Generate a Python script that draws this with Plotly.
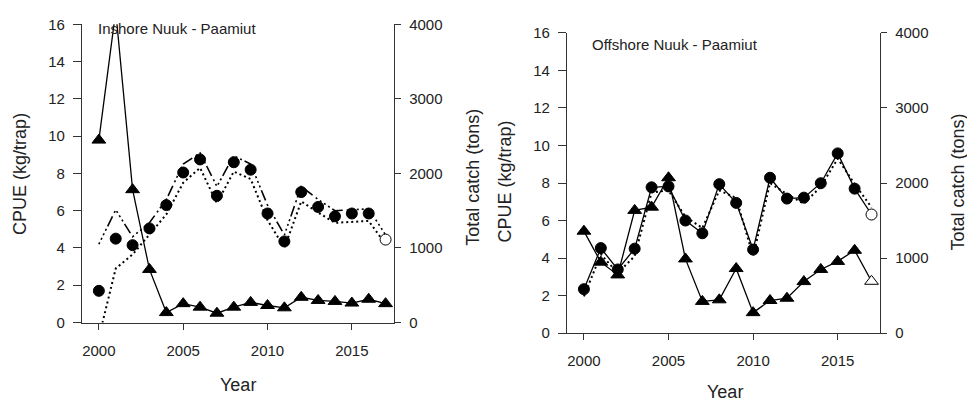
import plotly.graph_objects as go

W, H = 967, 412

years = list(range(2000, 2018))
x_ticks = [2000, 2005, 2010, 2015]
cpue_ticks = [0, 2, 4, 6, 8, 10, 12, 14, 16]
catch_ticks = [0, 1000, 2000, 3000, 4000]

# Inshore Nuuk - Paamiut
inshore_cpue = [1.7, 4.5, 4.15, 5.05, 6.3, 8.05, 8.75, 6.8, 8.6, 8.2, 5.85, 4.35, 7.0, 6.2, 5.7, 5.85, 5.85, 4.45]
inshore_upper = [4.2, 6.05, 4.6, 5.35, 6.6, 8.5, 9.1, 7.3, 8.95, 8.5, 6.3, 4.7, 7.3, 6.6, 6.0, 6.05, 6.1, 4.7]
inshore_lower = [-0.8, 2.9, 3.65, 4.7, 5.8, 7.5, 8.3, 6.4, 8.1, 7.7, 5.5, 4.0, 6.5, 5.9, 5.35, 5.4, 5.45, 4.2]
inshore_catch = [2447, 4180, 1782, 712, 133, 253, 206, 125, 206, 270, 228, 197, 338, 296, 283, 261, 312, 253]

# Offshore Nuuk - Paamiut
offshore_cpue = [2.34, 4.53, 3.39, 4.5, 7.77, 7.82, 6.0, 5.32, 7.94, 6.94, 4.45, 8.28, 7.17, 7.22, 7.99, 9.58, 7.70, 6.32]
offshore_std = [1.95, 4.2, 3.2, 4.1, 7.5, 7.6, 6.2, 5.6, 7.6, 7.2, 4.1, 8.0, 7.4, 6.9, 7.8, 9.3, 7.95, 6.7]
offshore_catch = [1358, 945, 775, 1635, 1678, 2070, 988, 422, 443, 860, 272, 434, 464, 686, 848, 955, 1103, 690]

FONT = "Arial, Liberation Sans, sans-serif"
BLK = "black"


def px(x):
    return x / W


def py(y):
    return 1 - y / H


def fills(n, last_open):
    c = [BLK] * n
    if last_open:
        c[-1] = "white"
    return c


fig = go.Figure()

# ---- left panel (x, y / y2)
fig.add_trace(go.Scatter(x=years, y=inshore_lower, mode="lines", xaxis="x", yaxis="y",
                         line=dict(color=BLK, width=2, dash="2px,3px"), showlegend=False))
fig.add_trace(go.Scatter(x=years, y=inshore_upper, mode="lines", xaxis="x", yaxis="y",
                         line=dict(color=BLK, width=1.6,
                                   dash="2px,3px,2px,3px,2px,3px,2px,3px,11px,4px"),
                         showlegend=False))
fig.add_trace(go.Scatter(x=years, y=inshore_cpue, mode="markers", xaxis="x", yaxis="y",
                         marker=dict(symbol="circle", size=11, color=fills(len(years), True),
                                     line=dict(color=BLK, width=1)), showlegend=False))
fig.add_trace(go.Scatter(x=years, y=inshore_catch, mode="lines+markers", xaxis="x", yaxis="y2",
                         line=dict(color=BLK, width=1.3),
                         marker=dict(symbol="triangle-up", size=12, color=BLK,
                                     line=dict(color=BLK, width=1)), showlegend=False))

# ---- right panel (x2, y3 / y4)
fig.add_trace(go.Scatter(x=years, y=offshore_std, mode="lines", xaxis="x2", yaxis="y3",
                         line=dict(color=BLK, width=2, dash="2px,3px"), showlegend=False))
fig.add_trace(go.Scatter(x=years, y=offshore_cpue, mode="lines+markers", xaxis="x2", yaxis="y3",
                         line=dict(color=BLK, width=1.3),
                         marker=dict(symbol="circle", size=11, color=fills(len(years), True),
                                     line=dict(color=BLK, width=1)), showlegend=False))
fig.add_trace(go.Scatter(x=years, y=offshore_catch, mode="lines+markers", xaxis="x2", yaxis="y4",
                         line=dict(color=BLK, width=1.3),
                         marker=dict(symbol="triangle-up", size=12, color=fills(len(years), True),
                                     line=dict(color=BLK, width=1)), showlegend=False))

tickfont = dict(family=FONT, size=15, color="#222")
xcommon = dict(range=[1999.0, 2017.5], tickvals=x_ticks, showgrid=False, zeroline=False,
               showline=True, linecolor="#333", linewidth=1.3, ticks="outside", ticklen=6,
               tickcolor="#333", tickfont=tickfont, ticklabelstandoff=8)
ycommon = dict(showgrid=False, zeroline=False, showline=True, linecolor="#333", linewidth=1.3,
               ticks="outside", tickcolor="#333", tickfont=tickfont, ticklabelstandoff=5)

L_dom = [px(82), px(394)]
L_ydom = [py(327), py(16)]
R_dom = [px(567), px(880)]
R_ydom = [py(338), py(25)]

fig.update_layout(
    width=W, height=H,
    margin=dict(l=0, r=0, t=0, b=0),
    paper_bgcolor="white", plot_bgcolor="white",
    font=dict(family=FONT, color="#222"),
    xaxis=dict(domain=L_dom, anchor="y", **xcommon),
    yaxis=dict(domain=L_ydom, anchor="x", range=[0, 16], tickvals=cpue_ticks, ticklen=8, **ycommon),
    yaxis2=dict(overlaying="y", side="right", anchor="x", range=[0, 4000], tickvals=catch_ticks,
                ticklen=6, **ycommon),
    xaxis2=dict(domain=R_dom, anchor="y3", **xcommon),
    yaxis3=dict(domain=R_ydom, anchor="x2", range=[0, 16], tickvals=cpue_ticks, ticklen=8, **ycommon),
    yaxis4=dict(overlaying="y3", side="right", anchor="x2", range=[0, 4000], tickvals=catch_ticks,
                ticklen=6, **ycommon),
)

tfont = dict(family=FONT, size=18, color="#222")
afont = dict(family=FONT, size=15, color="#222")
annotations = [
    dict(text="Inshore Nuuk - Paamiut", x=px(96), y=py(20), xanchor="left", yanchor="middle", font=afont),
    dict(text="Offshore Nuuk - Paamiut", x=px(590), y=py(37), xanchor="left", yanchor="middle", font=afont),
    dict(text="CPUE (kg/trap)", x=px(20), y=py(172), textangle=-90, xanchor="center", yanchor="middle", font=tfont),
    dict(text="Total catch (tons)", x=px(473), y=py(176), textangle=-90, xanchor="center", yanchor="middle", font=tfont),
    dict(text="Year", x=px(238), y=py(392), xanchor="center", yanchor="middle", font=tfont),
    dict(text="CPUE (kg/trap)", x=px(505), y=py(180), textangle=-90, xanchor="center", yanchor="middle", font=tfont),
    dict(text="Total catch (tons)", x=px(958), y=py(181), textangle=-90, xanchor="center", yanchor="middle", font=tfont),
    dict(text="Year", x=px(725), y=py(399), xanchor="center", yanchor="middle", font=tfont),
]
for a in annotations:
    a.update(xref="paper", yref="paper", showarrow=False)
fig.update_layout(annotations=annotations)

fig.write_html("out.html")
